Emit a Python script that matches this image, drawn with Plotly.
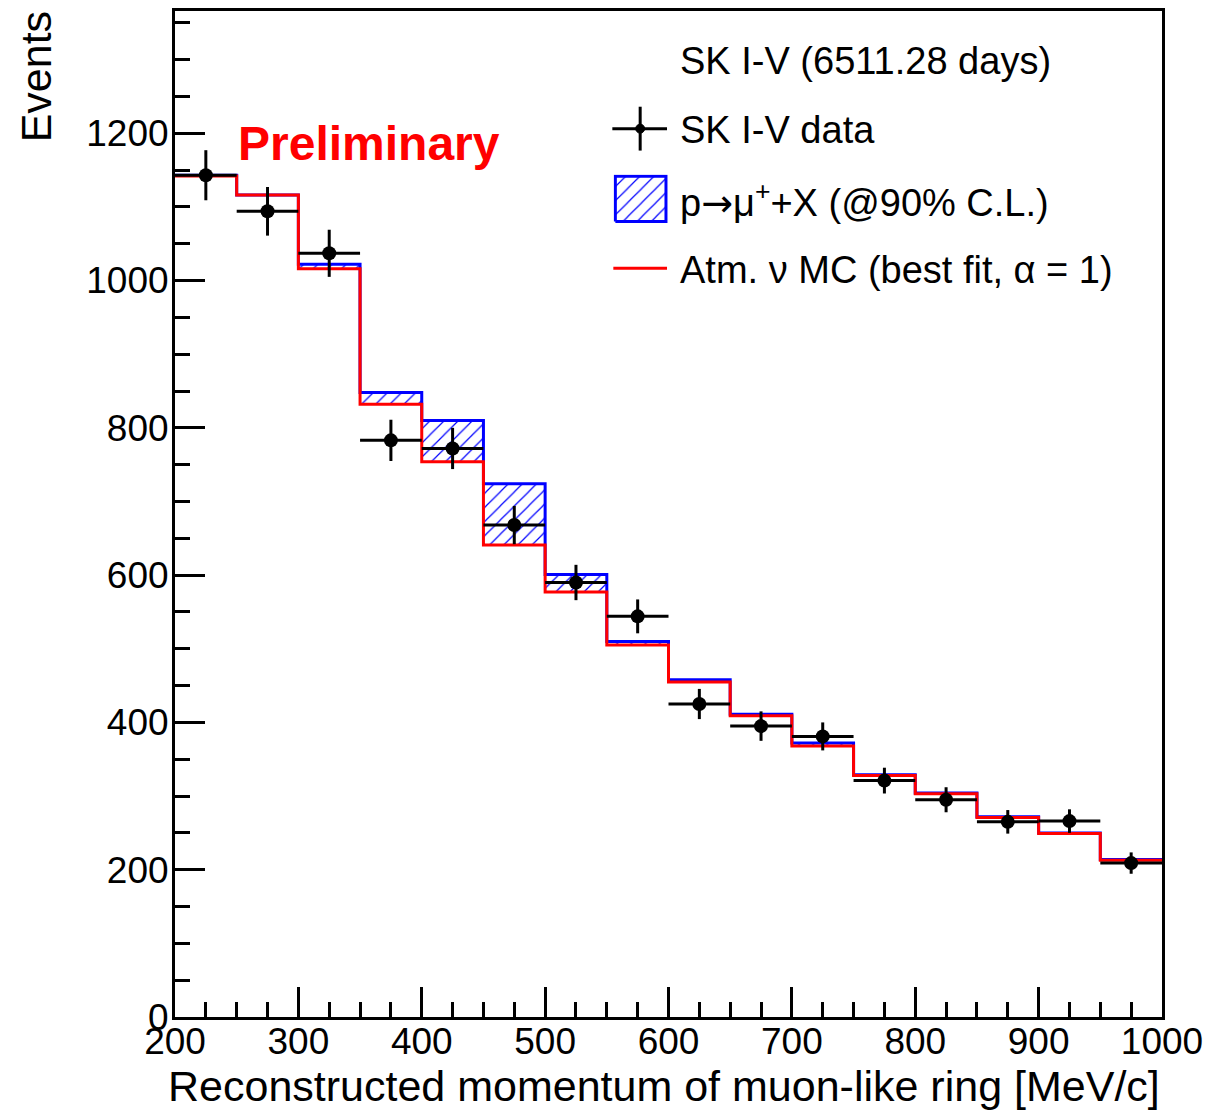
import plotly.graph_objects as go

# ---------------- data ----------------
bin_edges = [200, 250, 300, 350, 400, 450, 500, 550, 600, 650, 700, 750, 800, 850, 900, 950, 1000]
bin_centers = [225, 275, 325, 375, 425, 475, 525, 575, 625, 675, 725, 775, 825, 875, 925, 975]
atm_mc = [1142, 1116, 1016, 832, 754, 641, 577, 505, 455, 409, 368, 328, 303, 271, 249, 213]
signal = [1, 0, 6, 16, 56, 83, 24, 5, 3, 2, 4, 1, 1, 1, 1, 1]
data_counts = [1143, 1094, 1037, 783, 772, 668, 590, 544, 425, 395, 381, 321, 295, 265, 266, 209]
data_errors = [34, 33, 32, 28, 28, 26, 24, 23, 20.5, 20, 19, 17.5, 17, 16, 16, 14.5]
bin_half_width = [25] * 16

y_ticks = [0, 200, 400, 600, 800, 1000, 1200]
x_ticks = [200, 300, 400, 500, 600, 700, 800, 900, 1000]

FONT = "Liberation Sans, Arial, Helvetica, sans-serif"

# pixel geometry of plotting frame
W, H = 1211, 1111
L, R, T, B = 175, 43, 8, 94
PW = W - L - R
PH = H - T - B


def px(x):
    return (x - L) / PW


def py(y):
    return (H - B - y) / PH


stacked = [m + s for m, s in zip(atm_mc, signal)]
mc_step = atm_mc + [atm_mc[-1]]
stk_step = stacked + [stacked[-1]]

hatch = dict(shape="/", fgcolor="blue", bgcolor="white", size=10, solidity=0.12, fillmode="replace")

fig = go.Figure()

# base (invisible) for fill
fig.add_trace(go.Scatter(x=bin_edges, y=mc_step, mode="lines", line=dict(shape="hv", width=0, color="red"),
                         showlegend=False, hoverinfo="skip"))
# signal stacked on MC, hatched
fig.add_trace(go.Scatter(x=bin_edges, y=stk_step, mode="lines", line=dict(shape="hv", width=3, color="blue"),
                         fill="tonexty", fillcolor="white", fillpattern=hatch,
                         showlegend=False, hoverinfo="skip"))
# atmospheric MC
fig.add_trace(go.Scatter(x=bin_edges, y=mc_step, mode="lines", line=dict(shape="hv", width=3, color="red"),
                         showlegend=False))
# data
fig.add_trace(go.Scatter(x=bin_centers, y=data_counts, mode="markers",
                         marker=dict(color="black", size=14, symbol="circle"),
                         error_y=dict(type="data", array=data_errors, thickness=3, width=0, color="black"),
                         error_x=dict(type="data", array=bin_half_width, thickness=3, width=0, color="black"),
                         showlegend=False))

# legend hatched box via small inset axes
bx0, bx1, by0, by1 = 616, 671, 172, 221
fig.add_trace(go.Scatter(x=[0, 1, 1, 0, 0], y=[0, 0, 1, 1, 0], mode="lines",
                         line=dict(color="blue", width=3), fill="toself", fillcolor="white",
                         fillpattern=hatch, xaxis="x2", yaxis="y2", showlegend=False, hoverinfo="skip"))

shapes = []
# legend: data symbol
shapes.append(dict(type="line", xref="paper", yref="paper", x0=px(615), x1=px(670), y0=py(126), y1=py(126),
                   line=dict(color="black", width=3)))
shapes.append(dict(type="line", xref="paper", yref="paper", x0=px(643), x1=px(643), y0=py(104), y1=py(148),
                   line=dict(color="black", width=3)))
shapes.append(dict(type="circle", xref="paper", yref="paper", x0=px(638.5), x1=px(647.5), y0=py(121.5), y1=py(130.5),
                   fillcolor="black", line=dict(color="black", width=1)))
# legend: MC line
shapes.append(dict(type="line", xref="paper", yref="paper", x0=px(616), x1=px(670), y0=py(266), y1=py(266),
                   line=dict(color="red", width=3)))

LEG = 38
annotations = [
    dict(text="SK I-V (6511.28 days)", x=px(681), y=py(58), xref="paper", yref="paper",
         xanchor="left", yanchor="middle", showarrow=False, font=dict(family=FONT, size=LEG, color="black")),
    dict(text="SK I-V data", x=px(681), y=py(127), xref="paper", yref="paper",
         xanchor="left", yanchor="middle", showarrow=False, font=dict(family=FONT, size=LEG, color="black")),
    dict(text="p<span style=\"font-family:'DejaVu Sans'\">→</span>μ<sup>+</sup>+X (@90% C.L.)",
         x=px(681), y=py(198), xref="paper", yref="paper",
         xanchor="left", yanchor="middle", showarrow=False, font=dict(family=FONT, size=LEG, color="black")),
    dict(text="Atm. ν MC (best fit, α = 1)", x=px(681), y=py(268), xref="paper", yref="paper",
         xanchor="left", yanchor="middle", showarrow=False, font=dict(family=FONT, size=LEG, color="black")),
    dict(text="<b>Preliminary</b>", x=px(236), y=py(141), xref="paper", yref="paper",
         xanchor="left", yanchor="middle", showarrow=False, font=dict(family=FONT, size=48, color="red")),
    dict(text="Events", x=px(35), y=py(6), xref="paper", yref="paper", textangle=-90,
         xanchor="center", yanchor="top", showarrow=False, font=dict(family=FONT, size=43, color="black")),
    dict(text="Reconstructed momentum of muon-like ring [MeV/c]", x=1, y=py(1086), xref="paper", yref="paper",
         xanchor="right", yanchor="middle", showarrow=False, font=dict(family=FONT, size=43, color="black")),
]

fig.update_layout(
    width=W, height=H,
    margin=dict(l=L, r=R, t=T, b=B, pad=0),
    paper_bgcolor="white", plot_bgcolor="white",
    font=dict(family=FONT, size=36, color="black"),
    showlegend=False,
    shapes=shapes,
    annotations=annotations,
    xaxis=dict(range=[200, 1000], tickvals=x_ticks, ticktext=[str(v) for v in x_ticks],
               ticks="inside", ticklen=30, tickwidth=3, tickcolor="black",
               minor=dict(dtick=25, tick0=200, ticks="inside", ticklen=15, tickwidth=3, tickcolor="black"),
               showline=True, linewidth=3, linecolor="black", mirror=True,
               showgrid=False, zeroline=False, tickfont=dict(size=37), ticklabelstandoff=-10),
    yaxis=dict(range=[0, 1366], tickvals=y_ticks, ticktext=[str(v) for v in y_ticks],
               ticks="inside", ticklen=30, tickwidth=3, tickcolor="black",
               minor=dict(dtick=50, tick0=0, ticks="inside", ticklen=15, tickwidth=3, tickcolor="black"),
               showline=True, linewidth=3, linecolor="black", mirror=True,
               showgrid=False, zeroline=False, tickfont=dict(size=37), ticklabelstandoff=-4),
    xaxis2=dict(domain=[px(bx0), px(bx1)], range=[-0.04, 1.04], visible=False, anchor="y2", fixedrange=True),
    yaxis2=dict(domain=[py(by1), py(by0)], range=[-0.04, 1.04], visible=False, anchor="x2", fixedrange=True),
)

fig.write_html("out.html")
